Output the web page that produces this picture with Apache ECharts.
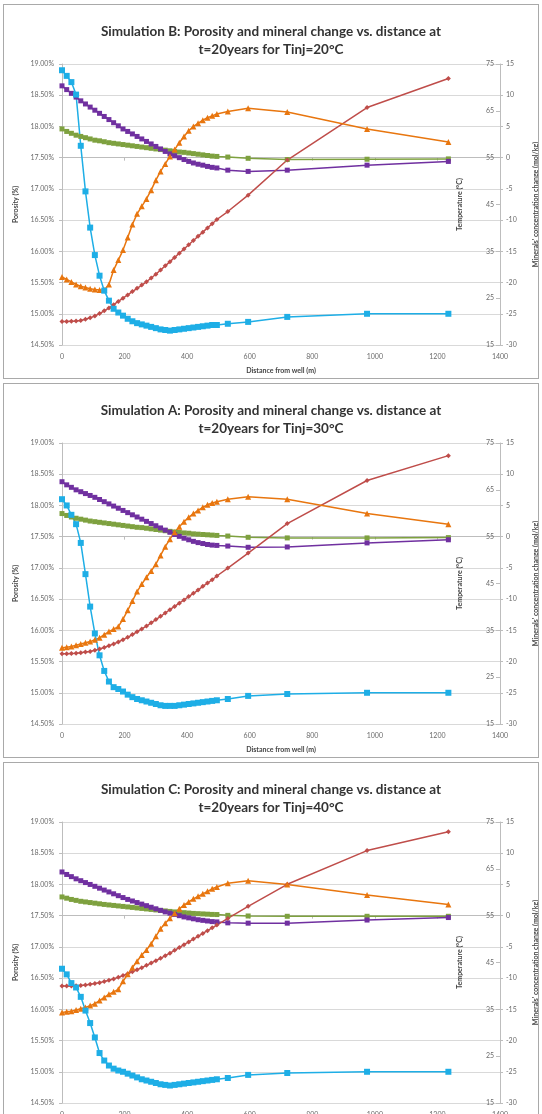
<!DOCTYPE html>
<html>
<head>
<meta charset="utf-8">
<script src="https://cdn.jsdelivr.net/npm/echarts@6/dist/echarts.min.js"></script>
<style>
  html, body { margin: 0; padding: 0; background: #fff; overflow: hidden; }
  body { width: 542px; height: 1114px; position: relative; }
  .panel { position: absolute; left: 3px; width: 534px; height: 373px; border: 1px solid #a9a9a9; background: #fff; }
  .panel .chart { width: 534px; height: 373px; }
</style>
</head>
<body>
<div class="panel" style="top:4px"><div class="chart" id="chartB"></div></div>
<div class="panel" style="top:383px"><div class="chart" id="chartA"></div></div>
<div class="panel" style="top:762px"><div class="chart" id="chartC"></div></div>
<script>
// distance from well (m)
var distance = [0, 15, 30, 45, 60, 75, 90, 105, 120, 135, 150, 165, 180, 195, 210, 225, 240, 255, 270, 285,
  300, 315, 330, 345, 360, 375, 390, 405, 420, 435, 450, 465, 480, 495, 530, 595, 720, 975, 1235];

// Simulation B (Tinj = 20°C)
var porosityB = [18.90, 18.81, 18.71, 18.51, 17.69, 16.96, 16.38, 15.94, 15.61, 15.37, 15.21, 15.08, 15.02, 14.97, 14.92, 14.88, 14.85, 14.83, 14.81, 14.79,
  14.77, 14.75, 14.74, 14.73, 14.74, 14.75, 14.76, 14.77, 14.78, 14.79, 14.80, 14.81, 14.82, 14.82, 14.84, 14.87, 14.95, 15.00, 15.00];
var temperatureB = [20.0, 20.0, 20.05, 20.1, 20.25, 20.5, 20.8, 21.2, 21.7, 22.3, 22.9, 23.6, 24.3, 25.0, 25.7, 26.4, 27.1, 27.8, 28.5, 29.3,
  30.1, 31.0, 31.9, 32.8, 33.7, 34.6, 35.5, 36.4, 37.3, 38.2, 39.1, 40.0, 40.9, 41.8, 43.5, 47.0, 54.5, 65.7, 71.9];
var mineral1B = [-19.1, -19.5, -19.9, -20.3, -20.6, -20.8, -21.0, -21.1, -21.2, -21.2, -20.3, -18.0, -16.4, -14.8, -12.8, -10.7, -9.0, -7.8, -6.6, -5.2,
  -3.6, -2.2, -1.0, 0.2, 1.3, 2.4, 3.4, 4.3, 5.0, 5.5, 6.0, 6.4, 6.7, 7.0, 7.4, 7.9, 7.3, 4.6, 2.5];
var mineral2B = [4.6, 4.2, 3.9, 3.6, 3.4, 3.2, 3.0, 2.8, 2.7, 2.55, 2.4, 2.3, 2.2, 2.1, 2.0, 1.9, 1.8, 1.7, 1.6, 1.5,
  1.4, 1.3, 1.2, 1.1, 1.0, 0.9, 0.85, 0.75, 0.65, 0.55, 0.45, 0.35, 0.25, 0.2, 0.1, -0.1, -0.3, -0.25, -0.2];
var mineral3B = [11.5, 10.9, 10.3, 9.7, 9.1, 8.6, 8.1, 7.6, 7.1, 6.6, 6.1, 5.6, 5.1, 4.6, 4.2, 3.8, 3.4, 3.0, 2.6, 2.2,
  1.8, 1.4, 1.0, 0.6, 0.3, 0.0, -0.3, -0.6, -0.85, -1.05, -1.2, -1.4, -1.55, -1.65, -2.0, -2.2, -2.0, -1.2, -0.6];

// Simulation A (Tinj = 30°C)
var porosityA = [18.10, 18.00, 17.85, 17.70, 17.40, 16.90, 16.38, 15.95, 15.60, 15.35, 15.18, 15.09, 15.06, 15.02, 14.97, 14.93, 14.90, 14.88, 14.86, 14.84,
  14.82, 14.80, 14.79, 14.79, 14.79, 14.80, 14.81, 14.82, 14.83, 14.84, 14.85, 14.86, 14.87, 14.88, 14.90, 14.95, 14.98, 15.00, 15.00];
var temperatureA = [30.0, 30.0, 30.05, 30.1, 30.2, 30.35, 30.5, 30.75, 31.0, 31.35, 31.7, 32.1, 32.5, 33.0, 33.5, 34.1, 34.7, 35.3, 35.9, 36.6,
  37.3, 38.0, 38.7, 39.4, 40.1, 40.8, 41.5, 42.2, 42.9, 43.6, 44.4, 45.1, 45.8, 46.6, 48.3, 51.5, 57.8, 67.0, 72.3];
var mineral1A = [-17.8, -17.7, -17.6, -17.4, -17.2, -17.0, -16.8, -16.5, -16.2, -15.7, -15.2, -14.8, -14.4, -13.2, -11.8, -10.3, -8.8, -7.6, -6.5, -5.5,
  -4.4, -3.0, -1.6, -0.4, 0.7, 1.6, 2.4, 3.1, 3.7, 4.2, 4.7, 5.1, 5.4, 5.6, 6.0, 6.4, 6.0, 3.7, 2.0];
var mineral2A = [3.7, 3.4, 3.15, 2.95, 2.8, 2.65, 2.5, 2.4, 2.3, 2.2, 2.1, 2.0, 1.9, 1.8, 1.7, 1.6, 1.5, 1.45, 1.35, 1.25,
  1.15, 1.05, 0.95, 0.85, 0.75, 0.7, 0.6, 0.55, 0.45, 0.4, 0.35, 0.3, 0.25, 0.2, 0.1, -0.1, -0.2, -0.2, -0.15];
var mineral3A = [8.8, 8.3, 7.9, 7.5, 7.2, 6.9, 6.6, 6.3, 5.95, 5.6, 5.25, 4.9, 4.55, 4.2, 3.85, 3.5, 3.15, 2.8, 2.45, 2.1,
  1.75, 1.4, 1.05, 0.7, 0.35, 0.05, -0.25, -0.5, -0.75, -0.95, -1.1, -1.25, -1.35, -1.4, -1.5, -1.7, -1.65, -1.0, -0.5];

// Simulation C (Tinj = 40°C)
var porosityC = [16.65, 16.56, 16.42, 16.35, 16.20, 15.98, 15.78, 15.55, 15.30, 15.18, 15.10, 15.05, 15.02, 15.00, 14.97, 14.94, 14.91, 14.88, 14.86, 14.84,
  14.82, 14.80, 14.79, 14.78, 14.79, 14.80, 14.81, 14.82, 14.83, 14.84, 14.85, 14.86, 14.87, 14.88, 14.90, 14.95, 14.98, 15.00, 15.00];
var temperatureC = [40.0, 40.0, 40.0, 40.05, 40.1, 40.2, 40.35, 40.5, 40.7, 40.95, 41.2, 41.5, 41.85, 42.2, 42.6, 43.0, 43.45, 43.9, 44.4, 44.9,
  45.4, 45.9, 46.45, 47.0, 47.6, 48.2, 48.8, 49.4, 50.0, 50.6, 51.2, 51.8, 52.4, 53.0, 54.4, 57.0, 61.7, 68.9, 72.9];
var mineral1C = [-15.5, -15.4, -15.3, -15.1, -14.9, -14.7, -14.4, -14.1, -13.6, -13.1, -12.6, -12.2, -11.8, -10.5, -9.4, -8.3, -7.3, -6.3, -5.5, -4.5,
  -3.3, -2.1, -1.2, -0.4, 0.4, 1.1, 1.7, 2.2, 2.7, 3.1, 3.5, 3.9, 4.3, 4.6, 5.2, 5.6, 5.0, 3.3, 1.8];
var mineral2C = [3.0, 2.8, 2.6, 2.45, 2.3, 2.2, 2.1, 2.0, 1.9, 1.8, 1.72, 1.64, 1.56, 1.48, 1.4, 1.32, 1.24, 1.16, 1.08, 1.0,
  0.92, 0.84, 0.76, 0.68, 0.6, 0.54, 0.48, 0.42, 0.36, 0.32, 0.28, 0.24, 0.2, 0.18, 0.05, -0.05, -0.1, -0.1, -0.1];
var mineral3C = [7.0, 6.6, 6.25, 5.9, 5.6, 5.3, 5.0, 4.7, 4.4, 4.1, 3.8, 3.5, 3.2, 2.9, 2.6, 2.35, 2.1, 1.85, 1.6, 1.35,
  1.1, 0.85, 0.6, 0.4, 0.2, 0.0, -0.2, -0.35, -0.5, -0.65, -0.75, -0.85, -0.95, -1.0, -1.15, -1.2, -1.2, -0.7, -0.3];

var FONT = 'Lato, "Open Sans", sans-serif';
var labelGrey = '#6b6b6b';

function pairs(ys) {
  return distance.map(function (d, i) { return [d, ys[i]]; });
}

function line(name, ys, axis, color, symbol, size) {
  return {
    name: name,
    type: 'line',
    yAxisIndex: axis,
    data: pairs(ys),
    symbol: symbol,
    symbolSize: size,
    lineStyle: { color: color, width: 1.5 },
    itemStyle: { color: color },
    animation: false
  };
}

function makeChart(id, title, porosity, temp, m1, m2, m3) {
  var chart = echarts.init(document.getElementById(id));
  var option = {
    title: {
      text: title,
      left: 'center',
      top: 13,
      textStyle: { fontFamily: FONT, fontSize: 13.5, fontWeight: 'bold', color: '#333', lineHeight: 18 }
    },
    grid: { left: 58, top: 59, width: 438, height: 281, outerBoundsMode: 'none' },
    xAxis: {
      type: 'value',
      min: 0, max: 1400, interval: 200,
      name: 'Distance from well (m)',
      nameLocation: 'middle',
      nameGap: 22,
      nameTextStyle: { fontFamily: FONT, fontSize: 7, fontWeight: 'bold', color: '#444' },
      axisLine: { show: true, lineStyle: { color: '#bdbdbd' } },
      axisTick: { show: true, length: 3, lineStyle: { color: '#bdbdbd' } },
      axisLabel: {
        fontFamily: FONT, fontSize: 7, color: labelGrey, margin: 8,
        formatter: function (v) { return String(v); }
      },
      splitLine: { show: false }
    },
    yAxis: [
      {
        type: 'value',
        min: 14.5, max: 19, interval: 0.5,
        name: 'Porosity (%)',
        nameLocation: 'middle',
        nameGap: 34,
        nameRotate: 90,
        nameTextStyle: { fontFamily: FONT, fontSize: 7, fontWeight: 'bold', color: '#444' },
        axisLine: { show: true, lineStyle: { color: '#bdbdbd' } },
        axisTick: { show: true, length: 3, lineStyle: { color: '#bdbdbd' } },
        axisLabel: {
          fontFamily: FONT, fontSize: 7, color: labelGrey, margin: 8,
          formatter: function (v) { return v.toFixed(2) + '%'; }
        },
        splitLine: { show: true, lineStyle: { color: '#d9d9d9', width: 1 } }
      },
      {
        type: 'value',
        position: 'right',
        min: 15, max: 75, interval: 10,
        name: 'Temperature (°C)',
        nameLocation: 'middle',
        nameGap: -44,
        nameRotate: 90,
        nameTextStyle: { fontFamily: FONT, fontSize: 7, fontWeight: 'bold', color: '#444' },
        axisLine: { show: false },
        axisTick: { show: true, inside: true, length: 4, lineStyle: { color: '#bdbdbd' } },
        axisLabel: { inside: true, fontFamily: FONT, fontSize: 7, color: labelGrey, margin: 6 },
        splitLine: { show: false }
      },
      {
        type: 'value',
        position: 'right',
        min: -30, max: 15, interval: 5,
        name: "Minerals' concentration change (mol/kg)",
        nameLocation: 'middle',
        nameGap: 32,
        nameRotate: 90,
        nameTextStyle: { fontFamily: FONT, fontSize: 7, fontWeight: 'bold', color: '#444' },
        axisLine: { show: true, lineStyle: { color: '#bdbdbd' } },
        axisTick: { show: true, length: 3, lineStyle: { color: '#bdbdbd' } },
        axisLabel: { fontFamily: FONT, fontSize: 7, color: labelGrey, margin: 6 },
        splitLine: { show: false }
      }
    ],
    series: [
      line('Mineral 2', m2, 2, '#7ea13f', 'rect', 5),
      line('Mineral 3', m3, 2, '#7030a0', 'rect', 5),
      line('Temperature', temp, 1, '#bf4d4a', 'diamond', 5),
      line('Mineral 1', m1, 2, '#e8760f', 'triangle', 6),
      line('Porosity', porosity, 0, '#1eaee6', 'rect', 6)
    ]
  };
  chart.setOption(option);
}

makeChart('chartB', 'Simulation B: Porosity and mineral change vs. distance at\nt=20years for Tinj=20°C',
  porosityB, temperatureB, mineral1B, mineral2B, mineral3B);
makeChart('chartA', 'Simulation A: Porosity and mineral change vs. distance at\nt=20years for Tinj=30°C',
  porosityA, temperatureA, mineral1A, mineral2A, mineral3A);
makeChart('chartC', 'Simulation C: Porosity and mineral change vs. distance at\nt=20years for Tinj=40°C',
  porosityC, temperatureC, mineral1C, mineral2C, mineral3C);
</script>
</body>
</html>
